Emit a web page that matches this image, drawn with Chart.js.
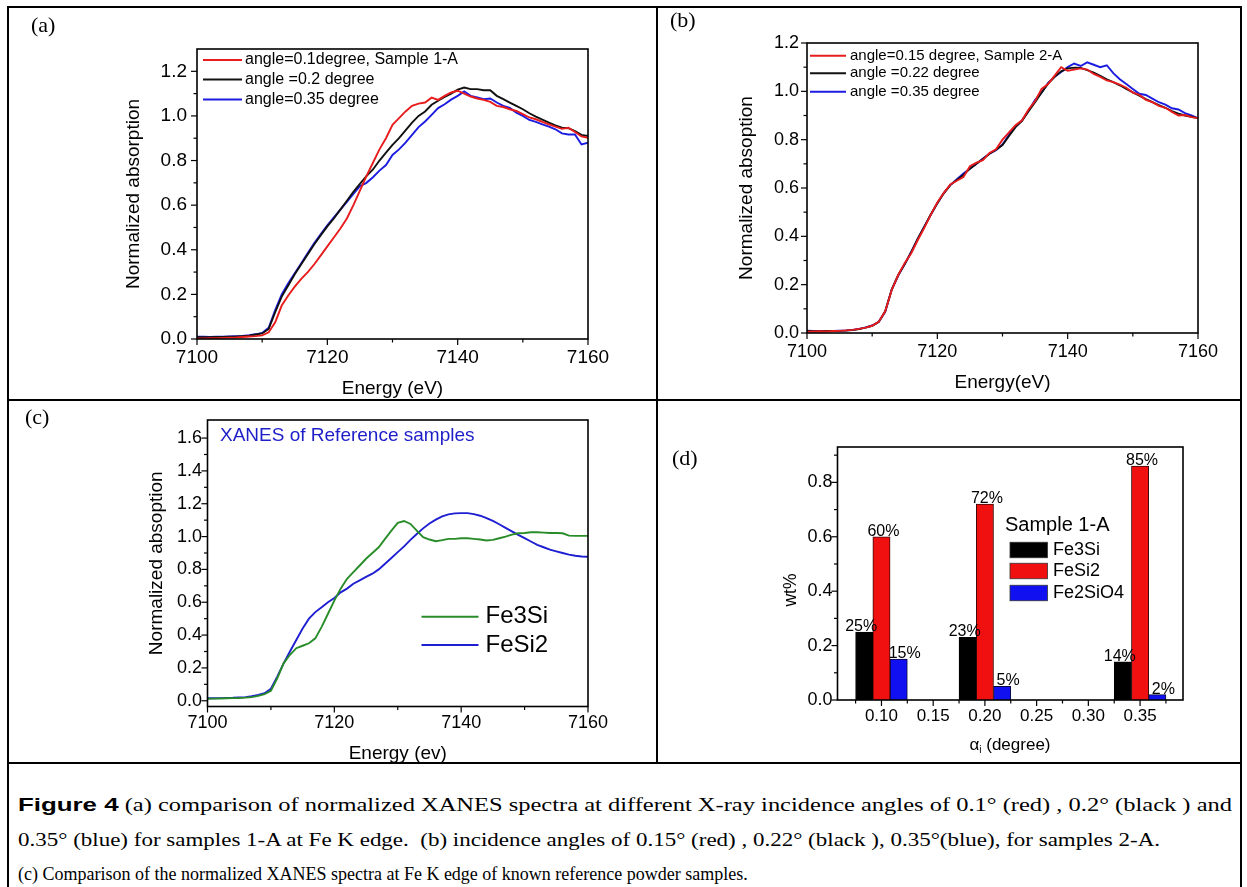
<!DOCTYPE html>
<html><head><meta charset="utf-8">
<script src="https://cdn.jsdelivr.net/npm/chart.js@4.4.1/dist/chart.umd.min.js"></script>
<style>
html,body{margin:0;padding:0;background:#fff;}
body{width:1247px;height:887px;position:relative;overflow:hidden;}
.ln{position:absolute;background:#000;z-index:5;}
canvas{position:absolute;}
.pl{position:absolute;font-family:"Liberation Serif","Times New Roman",serif;font-size:22px;line-height:22px;}
.cap{position:absolute;left:18px;font-family:"Liberation Serif","Times New Roman",serif;font-size:18px;white-space:pre;line-height:20px;color:#000;transform-origin:0 50%;}
.cap b{font-family:"Liberation Sans",Arial,sans-serif;font-size:19px;}
</style></head><body>
<canvas id="ca" width="647" height="392" style="left:9px;top:8px"></canvas>
<canvas id="cb" width="581" height="392" style="left:659px;top:8px"></canvas>
<canvas id="cc" width="647" height="364" style="left:9px;top:401px"></canvas>
<canvas id="cd" width="581" height="364" style="left:659px;top:401px"></canvas>

<div class="ln" style="left:7px;top:6px;width:1235px;height:2px"></div>
<div class="ln" style="left:7px;top:6px;width:2px;height:900px"></div>
<div class="ln" style="left:1240px;top:6px;width:2px;height:900px"></div>
<div class="ln" style="left:656px;top:6px;width:2px;height:758px"></div>
<div class="ln" style="left:7px;top:399px;width:1235px;height:2px"></div>
<div class="ln" style="left:7px;top:762px;width:1235px;height:2px"></div>

<div class="pl" style="left:31px;top:14px">(a)</div>
<div class="pl" style="left:670px;top:9px">(b)</div>
<div class="pl" style="left:25px;top:406px">(c)</div>
<div class="pl" style="left:672px;top:447px">(d)</div>

<div class="cap" id="l1" style="top:795px"><b>Figure 4</b> (a) comparison of normalized XANES spectra at different X-ray incidence angles of 0.1° (red) , 0.2° (black ) and</div>
<div class="cap" id="l2" style="top:830px">0.35° (blue) for samples 1-A at Fe K edge.  (b) incidence angles of 0.15° (red) , 0.22° (black ), 0.35°(blue), for samples 2-A.</div>
<div class="cap" id="l3" style="top:864px">(c) Comparison of the normalized XANES spectra at Fe K edge of known reference powder samples.</div>

<script>
// ---------------- data ----------------
const energy = [7100,7101,7102,7103,7104,7105,7106,7107,7108,7109,7110,7111,7112,7113,7114,7115,7116,7117,7118,7119,7120,7121,7122,7123,7124,7125,7126,7127,7128,7129,7130,7131,7132,7133,7134,7135,7136,7137,7138,7139,7140,7141,7142,7143,7144,7145,7146,7147,7148,7149,7150,7151,7152,7153,7154,7155,7156,7157,7158,7159,7160];
const energyTicks = [7100,7120,7140,7160];
const energyMinor = [7110,7130,7150];

const redA = [0.003,0.003,0.004,0.004,0.005,0.006,0.007,0.009,0.011,0.013,0.016,0.03,0.075,0.15,0.195,0.235,0.27,0.30,0.335,0.375,0.415,0.455,0.495,0.54,0.6,0.665,0.73,0.79,0.85,0.9,0.96,0.99,1.02,1.045,1.055,1.06,1.082,1.072,1.09,1.105,1.113,1.1,1.087,1.078,1.072,1.063,1.045,1.04,1.03,1.022,1.008,0.993,0.985,0.973,0.962,0.952,0.942,0.947,0.928,0.908,0.902];
const blackA = [0.008,0.008,0.008,0.009,0.009,0.01,0.011,0.013,0.015,0.02,0.025,0.045,0.12,0.19,0.24,0.29,0.335,0.38,0.425,0.465,0.505,0.54,0.58,0.62,0.66,0.695,0.73,0.76,0.8,0.835,0.87,0.9,0.935,0.97,1.0,1.02,1.05,1.068,1.085,1.1,1.118,1.127,1.12,1.12,1.115,1.115,1.09,1.075,1.06,1.045,1.03,1.012,0.997,0.983,0.97,0.958,0.947,0.945,0.932,0.915,0.91];
const blueA = [0.01,0.01,0.009,0.01,0.01,0.011,0.012,0.014,0.017,0.021,0.027,0.05,0.13,0.2,0.25,0.295,0.34,0.385,0.43,0.47,0.51,0.545,0.58,0.615,0.65,0.685,0.7,0.725,0.755,0.78,0.825,0.85,0.88,0.915,0.95,0.975,1.005,1.035,1.052,1.073,1.09,1.11,1.09,1.083,1.075,1.078,1.06,1.045,1.036,1.015,1.0,0.982,0.973,0.962,0.952,0.94,0.922,0.917,0.917,0.872,0.88];
const labelsA = ['angle=0.1degree, Sample 1-A','angle =0.2 degree','angle=0.35 degree'];
const ticksA = [0,0.2,0.4,0.6,0.8,1.0,1.2];
const minorA = [0.1,0.3,0.5,0.7,0.9,1.1];

const redB = [0.005,0.006,0.007,0.006,0.008,0.009,0.011,0.013,0.017,0.022,0.03,0.046,0.09,0.178,0.24,0.29,0.33,0.385,0.435,0.49,0.54,0.58,0.615,0.63,0.645,0.69,0.705,0.715,0.745,0.76,0.8,0.83,0.86,0.88,0.925,0.96,1.01,1.03,1.065,1.1,1.085,1.09,1.095,1.09,1.072,1.06,1.045,1.038,1.028,1.015,0.995,0.985,0.965,0.955,0.94,0.932,0.915,0.9,0.902,0.893,0.889];
const blackB = [0.008,0.007,0.007,0.008,0.008,0.009,0.01,0.012,0.016,0.022,0.03,0.045,0.09,0.18,0.24,0.285,0.335,0.39,0.44,0.49,0.537,0.578,0.613,0.633,0.654,0.68,0.7,0.72,0.742,0.758,0.778,0.815,0.852,0.878,0.918,0.955,0.995,1.032,1.06,1.083,1.095,1.098,1.097,1.088,1.077,1.064,1.05,1.038,1.025,1.01,0.996,0.982,0.968,0.955,0.943,0.932,0.918,0.908,0.9,0.895,0.889];
const blueB = [0.01,0.009,0.008,0.009,0.009,0.01,0.011,0.013,0.017,0.023,0.031,0.046,0.088,0.18,0.238,0.285,0.336,0.39,0.44,0.49,0.537,0.58,0.612,0.636,0.66,0.68,0.7,0.722,0.742,0.756,0.78,0.82,0.855,0.88,0.92,0.965,0.995,1.035,1.06,1.08,1.1,1.115,1.105,1.12,1.11,1.1,1.108,1.075,1.05,1.03,1.01,0.99,0.985,0.97,0.955,0.945,0.93,0.925,0.91,0.9,0.889];
const labelsB = ['angle=0.15 degree, Sample 2-A','angle =0.22 degree','angle =0.35 degree'];
const ticksB = [0,0.2,0.4,0.6,0.8,1.0,1.2];
const minorB = [0.1,0.3,0.5,0.7,0.9,1.1];

const fe3si = [0.012,0.013,0.014,0.015,0.016,0.017,0.019,0.022,0.03,0.04,0.06,0.137,0.228,0.28,0.32,0.335,0.35,0.38,0.45,0.53,0.61,0.683,0.743,0.784,0.824,0.865,0.9,0.935,0.986,1.036,1.083,1.095,1.077,1.036,0.996,0.982,0.972,0.978,0.986,0.986,0.99,0.99,0.986,0.982,0.976,0.98,0.99,1.0,1.012,1.02,1.022,1.026,1.026,1.024,1.022,1.022,1.02,1.006,1.004,1.004,1.004];
const fesi2 = [0.015,0.015,0.016,0.017,0.018,0.02,0.022,0.028,0.036,0.046,0.073,0.147,0.228,0.3,0.37,0.44,0.5,0.54,0.57,0.6,0.626,0.66,0.683,0.713,0.733,0.754,0.774,0.8,0.834,0.869,0.905,0.94,0.98,1.016,1.05,1.08,1.103,1.123,1.135,1.141,1.143,1.143,1.137,1.127,1.113,1.095,1.075,1.053,1.032,1.01,0.99,0.97,0.95,0.935,0.92,0.91,0.9,0.89,0.883,0.879,0.877];
const labelsC = ['Fe3Si','FeSi2'];
const ticksC = [0,0.2,0.4,0.6,0.8,1.0,1.2,1.4,1.6];
const minorC = [0.1,0.3,0.5,0.7,0.9,1.1,1.3,1.5];

const angles = [0.10,0.20,0.35];
const fe3siWt = [0.25,0.23,0.14];
const fesi2Wt = [0.60,0.72,0.86];
const fe2sio4Wt = [0.15,0.05,0.02];
const fe3siTxt = ['25%','23%','14%'];
const fesi2Txt = ['60%','72%','85%'];
const fe2sio4Txt = ['15%','5%','2%'];
const labelsD = ['Fe3Si','FeSi2','Fe2SiO4'];
const angleTicks = [0.10,0.15,0.20,0.25,0.30,0.35];
const angleMinor = [0.075,0.125,0.175,0.225,0.275,0.325,0.375];
const wtTicks = [0,0.2,0.4,0.6,0.8];
const wtMinor = [0.1,0.3,0.5,0.7,0.9];

// ---------------- rendering ----------------
const SANS = '"Liberation Sans", Arial, sans-serif';
Chart.defaults.font.family = SANS;
Chart.defaults.color = '#000';

const framePlugin = {
  id: 'frame',
  afterDatasetsDraw(chart, args, o) {
    const {ctx, chartArea: a} = chart;
    const xs = chart.scales.x, ys = chart.scales.y;
    ctx.save();
    ctx.strokeStyle = '#000';
    ctx.lineWidth = 1.2;
    const tick = (s, v, len) => {
      const p = s.getPixelForValue(v);
      ctx.beginPath();
      if (s.isHorizontal()) { ctx.moveTo(p, a.bottom); ctx.lineTo(p, a.bottom + len); }
      else { ctx.moveTo(a.left, p); ctx.lineTo(a.left - len, p); }
      ctx.stroke();
    };
    (o.xMinor || []).forEach(v => tick(xs, v, 3.5));
    xs.ticks.forEach(t => tick(xs, t.value, 6));
    (o.yMinor || []).forEach(v => tick(ys, v, 3.5));
    ys.ticks.forEach(t => tick(ys, t.value, 6));
    ctx.lineWidth = 1.6;
    ctx.strokeRect(a.left, a.top, a.right - a.left, a.bottom - a.top);

    if (o.barText) {
      ctx.textAlign = 'center'; ctx.textBaseline = 'alphabetic';
      ctx.font = o.barText.size + 'px ' + SANS; ctx.fillStyle = '#000';
      o.barText.texts.forEach((arr, di) => {
        chart.getDatasetMeta(di).data.forEach((el, i) => {
          ctx.fillText(arr[i], el.x + o.barText.dx[di], el.y - 1);
        });
      });
    }
    const L = o.legend;
    if (L) {
      ctx.textAlign = 'left'; ctx.textBaseline = 'middle';
      ctx.font = L.size + 'px ' + SANS;
      chart.data.datasets.forEach((ds, i) => {
        const y = a.top + L.ys[i];
        if (L.type === 'line') {
          ctx.strokeStyle = ds.borderColor; ctx.lineWidth = L.lw || 2;
          ctx.beginPath(); ctx.moveTo(a.left + L.x0, y); ctx.lineTo(a.left + L.x1, y); ctx.stroke();
        } else {
          ctx.fillStyle = ds.backgroundColor;
          ctx.fillRect(a.left + L.x0, y - L.h / 2, L.x1 - L.x0, L.h);
          ctx.strokeStyle = '#333'; ctx.lineWidth = 0.8;
          ctx.strokeRect(a.left + L.x0, y - L.h / 2, L.x1 - L.x0, L.h);
        }
        ctx.fillStyle = '#000';
        ctx.fillText(ds.label, a.left + L.tx, y);
      });
    }
    (o.texts || []).forEach(t => {
      ctx.save();
      ctx.fillStyle = t.color || '#000';
      ctx.font = t.size + 'px ' + SANS;
      ctx.textBaseline = 'middle';
      ctx.textAlign = t.align || 'left';
      ctx.translate(a.left + t.x, a.top + t.y);
      if (t.rot) ctx.rotate(-Math.PI / 2);
      ctx.fillText(t.text, 0, 0);
      ctx.restore();
    });
    if (o.subTitle) {
      const s = o.subTitle;
      let w = 0;
      s.parts.forEach(p => { ctx.font = p.size + 'px ' + SANS; w += ctx.measureText(p.t).width; });
      let x = a.left + s.x - w / 2;
      ctx.fillStyle = '#000'; ctx.textAlign = 'left'; ctx.textBaseline = 'middle';
      s.parts.forEach(p => {
        ctx.font = p.size + 'px ' + SANS;
        ctx.fillText(p.t, x, a.top + s.y + (p.dy || 0));
        x += ctx.measureText(p.t).width;
      });
    }
    ctx.restore();
  }
};

function setTicks(arr) { return s => { s.ticks = arr.map(v => ({value: v})); }; }

function lineChart(id, series, cfg) {
  return new Chart(document.getElementById(id), {
    type: 'line',
    data: {
      datasets: series.map(d => ({
        label: d.label,
        data: energy.map((e, i) => ({x: e, y: d.values[i]})),
        borderColor: d.color, borderWidth: 1.9, pointRadius: 0, tension: 0, fill: false
      }))
    },
    options: {
      responsive: false, animation: false, events: [],
      layout: {padding: cfg.padding},
      plugins: {legend: {display: false}, tooltip: {enabled: false}, frame: cfg.frame},
      scales: {
        x: {
          type: 'linear', min: 7100, max: 7160, bounds: 'data',
          afterBuildTicks: setTicks(energyTicks),
          afterFit: s => { s.height = cfg.xh; },
          grid: {display: false, drawTicks: false}, border: {display: false},
          ticks: {padding: cfg.xpad, font: {size: cfg.xts}, autoSkip: false, maxRotation: 0, callback: v => String(v)},
          title: {display: true, text: cfg.xTitle, font: {size: 19}, padding: {top: 0, bottom: cfg.xtp || 0}}
        },
        y: {
          type: 'linear', min: cfg.ymin, max: cfg.ymax, bounds: 'data',
          afterBuildTicks: setTicks(cfg.yTicks),
          afterFit: s => { s.width = cfg.yw; },
          grid: {display: false, drawTicks: false}, border: {display: false},
          ticks: {padding: cfg.ypad, font: {size: cfg.yts}, autoSkip: false, callback: v => v.toFixed(1)},
          title: {display: true, text: cfg.yTitle, font: {size: 19}, padding: {top: 0, bottom: 0}}
        }
      }
    },
    plugins: [framePlugin]
  });
}

lineChart('ca', [
  {label: labelsA[0], values: redA, color: 'rgb(232,28,28)'},
  {label: labelsA[1], values: blackA, color: '#111'},
  {label: labelsA[2], values: blueA, color: 'rgb(28,28,225)'}
], {
  padding: {left: 113, top: 41, right: 68, bottom: 0}, xh: 61, yw: 75,
  ymin: 0, ymax: 1.3, yTicks: ticksA, xpad: 7, ypad: 10, xts: 19, yts: 19,
  xTitle: 'Energy (eV)', yTitle: 'Normalized absorption',
  frame: {xMinor: energyMinor, yMinor: minorA,
    legend: {type: 'line', x0: 6, x1: 45, tx: 48, ys: [11, 30.5, 50.5], size: 16, lw: 2}}
});

lineChart('cb', [
  {label: labelsB[0], values: redB, color: 'rgb(232,28,28)'},
  {label: labelsB[1], values: blackB, color: '#111'},
  {label: labelsB[2], values: blueB, color: 'rgb(28,28,225)'}
], {
  padding: {left: 76, top: 35, right: 42, bottom: 0}, xh: 67, yw: 72, xtp: 5.6,
  ymin: 0, ymax: 1.2, yTicks: ticksB, xpad: 8, ypad: 8, xts: 18, yts: 18,
  xTitle: 'Energy(eV)', yTitle: 'Normalized absoption',
  frame: {xMinor: energyMinor, yMinor: minorB,
    legend: {type: 'line', x0: 3, x1: 39, tx: 43, ys: [12.7, 30.3, 48.7], size: 15, lw: 2}}
});

lineChart('cc', [
  {label: labelsC[0], values: fe3si, color: 'rgb(40,140,40)'},
  {label: labelsC[1], values: fesi2, color: 'rgb(30,30,210)'}
], {
  padding: {left: 136, top: 19, right: 68, bottom: 0}, xh: 58.5, yw: 62.5,
  ymin: -0.035, ymax: 1.71, yTicks: ticksC, xpad: 6, ypad: 5.5, xts: 18, yts: 18,
  xTitle: 'Energy (ev)', yTitle: 'Normalized absoption',
  frame: {xMinor: energyMinor, yMinor: minorC,
    legend: {type: 'line', x0: 214, x1: 271, tx: 278, ys: [196.7, 225], size: 24, lw: 2},
    texts: [{text: 'XANES of Reference samples', x: 12.5, y: 15.7, size: 19, color: 'rgb(30,30,200)'}]}
});

new Chart(document.getElementById('cd'), {
  type: 'bar',
  data: {
    datasets: [
      {label: labelsD[0], data: angles.map((a, i) => ({x: a, y: fe3siWt[i]})), backgroundColor: '#000', borderColor: '#000', borderWidth: 1},
      {label: labelsD[1], data: angles.map((a, i) => ({x: a, y: fesi2Wt[i]})), backgroundColor: 'rgb(240,16,16)', borderColor: '#3a0a0a', borderWidth: 1},
      {label: labelsD[2], data: angles.map((a, i) => ({x: a, y: fe2sio4Wt[i]})), backgroundColor: 'rgb(16,16,240)', borderColor: '#0a0a3a', borderWidth: 1}
    ]
  },
  options: {
    responsive: false, animation: false, events: [],
    layout: {padding: {left: 122, top: 46, right: 57, bottom: 0}},
    datasets: {bar: {categoryPercentage: 1, barPercentage: 1}},
    plugins: {legend: {display: false}, tooltip: {enabled: false},
      frame: {
        xMinor: angleMinor, yMinor: wtMinor,
        barText: {size: 16, texts: [fe3siTxt, fesi2Txt, fe2sio4Txt], dx: [-3, 2, 6]},
        legend: {type: 'box', x0: 172.5, x1: 210, h: 15.5, tx: 215.5, ys: [103, 124, 146], size: 18},
        texts: [
          {text: 'Sample 1-A', x: 167.5, y: 78.5, size: 20},
          {text: 'wt%', x: -46, y: 143, size: 17.5, rot: true, align: 'center'}
        ],
        subTitle: {x: 172.5, y: 298, parts: [{t: 'α', size: 17}, {t: 'i', size: 10, dy: 5}, {t: ' (degree)', size: 17}]}
      }
    },
    scales: {
      x: {
        type: 'linear', offset: false, min: 0.0575, max: 0.3915, bounds: 'data',
        afterBuildTicks: setTicks(angleTicks),
        afterFit: s => { s.height = 65; },
        grid: {display: false, drawTicks: false}, border: {display: false},
        ticks: {padding: 6.3, font: {size: 17}, autoSkip: false, maxRotation: 0, callback: v => v.toFixed(2)}
      },
      y: {
        type: 'linear', min: 0, max: 0.93, bounds: 'data',
        afterBuildTicks: setTicks(wtTicks),
        afterFit: s => { s.width = 56.5; },
        grid: {display: false, drawTicks: false}, border: {display: false},
        ticks: {padding: 5, font: {size: 18}, autoSkip: false, callback: v => v.toFixed(1)}
      }
    }
  },
  plugins: [framePlugin]
});

// caption lines 1 and 2 are set wider in the reference: stretch them horizontally to the same extent
function stretch(id, right) {
  const el = document.getElementById(id);
  el.style.transform = 'none';
  const w = el.getBoundingClientRect().width;
  const k = (right - 18) / w;
  if (k > 1) el.style.transform = 'scaleX(' + k + ')';
}
function fitCaption() { stretch('l1', 1232); stretch('l2', 1160); }
fitCaption();
if (document.fonts && document.fonts.ready) document.fonts.ready.then(fitCaption);
</script>
</body></html>
